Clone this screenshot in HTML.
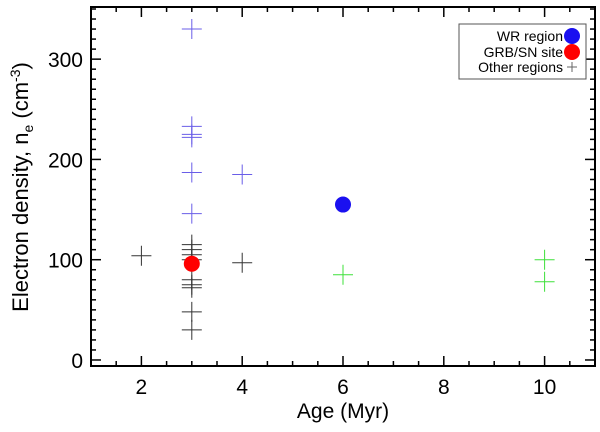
<!DOCTYPE html>
<html><head><meta charset="utf-8"><style>
body{margin:0;background:#fff}
text{font-family:"Liberation Sans",sans-serif}
</style></head><body>
<svg id="chart" width="600" height="427" viewBox="0 0 600 427" xmlns="http://www.w3.org/2000/svg">
<g id="axes"></g>
<g id="marks"></g>
<text x="343" y="418" font-size="21" text-anchor="middle">Age (Myr)</text>
<text transform="translate(28,187) rotate(-90)" font-size="22" text-anchor="middle">Electron density, n<tspan font-size="14" dy="5">e</tspan><tspan dy="-5"> (cm</tspan><tspan font-size="14" dy="-8">-3</tspan><tspan dy="8">)</tspan></text>
<g>
<rect x="459" y="24" width="127" height="55" fill="#fff" stroke="#555" stroke-width="1"/>
<text x="563" y="41" font-size="14" text-anchor="end">WR region</text>
<circle cx="572" cy="36" r="8" fill="#1a10f0"/>
<text x="563" y="57" font-size="14" text-anchor="end">GRB/SN site</text>
<circle cx="572" cy="52" r="8" fill="#f00"/>
<text x="563" y="72" font-size="14" text-anchor="end">Other regions</text>
<path d="M567 67h10M572 62v10" stroke="#666" stroke-width="1"/>
</g>
</svg>
<script>
const blueX=[3,3,3,3,3,3,4];
const blueY=[330,233,225,222,187,146,185];
const blackX=[2,3,3,3,3,3,3,3,3,3,4];
const blackY=[104,115,110,105,100,80,75,72,48,30,97];
const greenX=[6,10,10];
const greenY=[85,100,78];
const wrX=[6], wrY=[155];
const grbX=[3], grbY=[96];
const xTicks=[2,4,6,8,10];
const yTicks=[0,100,200,300];
const L=91,R=595,T=7,B=366,xmin=1,xmax=11,ymin=-6,ymax=352;
const sx=v=>L+(v-xmin)/(xmax-xmin)*(R-L);
const sy=v=>B-(v-ymin)/(ymax-ymin)*(B-T);
const NS="http://www.w3.org/2000/svg";
const ax=document.getElementById('axes'),mk=document.getElementById('marks');
function mkEl(t,a,p){const e=document.createElementNS(NS,t);for(const k in a)e.setAttribute(k,a[k]);p.appendChild(e);return e;}
const fr=mkEl('rect',{x:L,y:T,width:R-L,height:B-T,fill:'none',stroke:'#000','stroke-width':2},ax);


for(let v=1.5;v<=11;v+=0.5){const x=sx(v),maj=xTicks.includes(v),len=maj?10:5;
mkEl('line',{x1:x,x2:x,y1:B,y2:B-len,stroke:'#000','stroke-width':1.5},ax);
mkEl('line',{x1:x,x2:x,y1:T,y2:T+len,stroke:'#000','stroke-width':1.5},ax);}
for(let v=0;v<=350;v+=10){const y=sy(v),maj=yTicks.includes(v),len=maj?10:5;
mkEl('line',{x1:L,x2:L+len,y1:y,y2:y,stroke:'#000','stroke-width':1.5},ax);
mkEl('line',{x1:R,x2:R-len,y1:y,y2:y,stroke:'#000','stroke-width':1.5},ax);}
xTicks.forEach(v=>{const t=mkEl('text',{x:sx(v),y:394,'font-size':21,'text-anchor':'middle'},ax);t.textContent=v;

});
yTicks.forEach(v=>{const t=mkEl('text',{x:83,y:sy(v)+8,'font-size':21,'text-anchor':'end'},ax);t.textContent=v;

});
function plus(xs,ys,c,name){xs.forEach((x,i)=>{const px=sx(x),py=sy(ys[i]);
const p=mkEl('path',{d:`M${px-10} ${py}h20M${px} ${py-10}v20`,stroke:c,'stroke-width':1,fill:'none'},mk);

});}
plus(blackX,blackY,'#333','other-region-black');
plus(blueX,blueY,'#6a5ee8','other-region-blue');
plus(greenX,greenY,'#3ee03a','other-region-green');
wrX.forEach((x,i)=>{const c=mkEl('circle',{cx:sx(x),cy:sy(wrY[i]),r:8,fill:'#1a10f0'},mk);

});
grbX.forEach((x,i)=>{const c=mkEl('circle',{cx:sx(x),cy:sy(grbY[i]),r:8,fill:'#f00'},mk);

});
</script>
</body></html>
